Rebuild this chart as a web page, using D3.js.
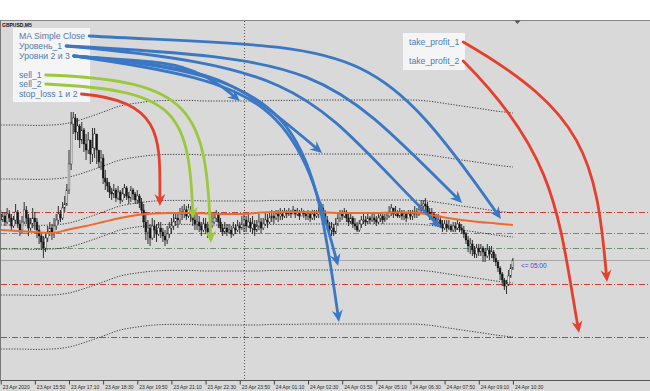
<!DOCTYPE html>
<html>
<head>
<meta charset="utf-8">
<script src="https://cdn.jsdelivr.net/npm/d3@7"></script>
<style>
  body { margin: 0; background: #fff; }
  svg { display: block; }
</style>
</head>
<body>
<div id="chart"></div>
<script>
// GBPUSD M5, 23 Apr 2020 14:30 .. 24 Apr 2020 10:30
const symbolTitle = 'GBPUSD,M5'
const firstBar = new Date(2020, 3, 23, 14, 30)
const barMinutes = 5

const timeTicks = ['23 Apr 2020', '23 Apr 15:50', '23 Apr 17:10', '23 Apr 18:30', '23 Apr 19:50',
  '23 Apr 21:10', '23 Apr 22:30', '23 Apr 23:50', '24 Apr 01:10', '24 Apr 02:30', '24 Apr 03:50',
  '24 Apr 05:10', '24 Apr 06:30', '24 Apr 07:50', '24 Apr 09:10', '24 Apr 10:30']

const close = [
  1.2356, 1.2358, 1.2355, 1.2359, 1.2357, 1.2353, 1.2356, 1.2360, 1.2354, 1.2351,
  1.2355, 1.2361, 1.2357, 1.2352, 1.2354, 1.2357, 1.2355, 1.2351, 1.2348, 1.2345,
  1.2342, 1.2347, 1.2350, 1.2352, 1.2349, 1.2353, 1.2356, 1.2359, 1.2357, 1.2362,
  1.2364, 1.2371, 1.2384, 1.2404, 1.2407, 1.2400, 1.2403, 1.2396, 1.2401, 1.2394,
  1.2391, 1.2396, 1.2389, 1.2392, 1.2399, 1.2391, 1.2385, 1.2387, 1.2377, 1.2375,
  1.2373, 1.2370, 1.2369, 1.2371, 1.2367, 1.2370, 1.2366, 1.2369, 1.2372, 1.2368,
  1.2367, 1.2371, 1.2369, 1.2366, 1.2368, 1.2365, 1.2361, 1.2355, 1.2350, 1.2352,
  1.2347, 1.2353, 1.2351, 1.2349, 1.2352, 1.2350, 1.2348, 1.2346, 1.2349, 1.2352,
  1.2353, 1.2355, 1.2357, 1.2356, 1.2359, 1.2360, 1.2361, 1.2358, 1.2361, 1.2359,
  1.2356, 1.2354, 1.2355, 1.2353, 1.2351, 1.2354, 1.2352, 1.2350, 1.2353, 1.2355,
  1.2357, 1.2359, 1.2355, 1.2352, 1.2350, 1.2352, 1.2350, 1.2351, 1.2349, 1.2352,
  1.2351, 1.2353, 1.2352, 1.2354, 1.2356, 1.2353, 1.2355, 1.2352, 1.2354, 1.2351,
  1.2353, 1.2355, 1.2352, 1.2354, 1.2356, 1.2355, 1.2357, 1.2358, 1.2357, 1.2359,
  1.2358, 1.2359, 1.2358, 1.2360, 1.2359, 1.2360, 1.2359, 1.2361, 1.2359, 1.2360,
  1.2358, 1.2360, 1.2359, 1.2358, 1.2359, 1.2357, 1.2359, 1.2358, 1.2359, 1.2360,
  1.2362, 1.2360, 1.2356, 1.2353, 1.2351, 1.2352, 1.2350, 1.2354, 1.2357, 1.2359,
  1.2358, 1.2360, 1.2357, 1.2355, 1.2357, 1.2354, 1.2353, 1.2351, 1.2354, 1.2356,
  1.2356, 1.2355, 1.2357, 1.2356, 1.2357, 1.2356, 1.2355, 1.2357, 1.2358, 1.2356,
  1.2357, 1.2358, 1.2360, 1.2362, 1.2359, 1.2360, 1.2358, 1.2360, 1.2358, 1.2359,
  1.2357, 1.2359, 1.2358, 1.2359, 1.2360, 1.2359, 1.2361, 1.2363, 1.2364, 1.2363,
  1.2360, 1.2358, 1.2359, 1.2357, 1.2355, 1.2356, 1.2354, 1.2352, 1.2354, 1.2352,
  1.2353, 1.2351, 1.2353, 1.2352, 1.2354, 1.2352, 1.2351, 1.2349, 1.2346, 1.2343,
  1.2344, 1.2341, 1.2339, 1.2342, 1.2340, 1.2342, 1.2340, 1.2338, 1.2341, 1.2339,
  1.2340, 1.2337, 1.2335, 1.2332, 1.2329, 1.2326, 1.2323, 1.2324, 1.2328, 1.2332,
  1.2336
]
const high = [
  1.2361, 1.2360, 1.2360, 1.2362, 1.2361, 1.2359, 1.2358, 1.2364, 1.2361, 1.2356,
  1.2358, 1.2365, 1.2363, 1.2359, 1.2357, 1.2362, 1.2360, 1.2357, 1.2353, 1.2350,
  1.2348, 1.2350, 1.2353, 1.2355, 1.2354, 1.2357, 1.2359, 1.2363, 1.2361, 1.2365,
  1.2368, 1.2374, 1.2391, 1.2410, 1.2410, 1.2409, 1.2407, 1.2404, 1.2405, 1.2402,
  1.2399, 1.2400, 1.2396, 1.2402, 1.2402, 1.2396, 1.2391, 1.2391, 1.2389, 1.2381,
  1.2377, 1.2375, 1.2372, 1.2374, 1.2372, 1.2373, 1.2371, 1.2372, 1.2374, 1.2373,
  1.2370, 1.2373, 1.2372, 1.2370, 1.2371, 1.2369, 1.2367, 1.2364, 1.2360, 1.2356,
  1.2354, 1.2357, 1.2356, 1.2354, 1.2355, 1.2355, 1.2352, 1.2351, 1.2353, 1.2355,
  1.2357, 1.2359, 1.2360, 1.2360, 1.2362, 1.2363, 1.2364, 1.2363, 1.2364, 1.2363,
  1.2361, 1.2359, 1.2359, 1.2358, 1.2355, 1.2357, 1.2357, 1.2355, 1.2357, 1.2359,
  1.2360, 1.2361, 1.2360, 1.2357, 1.2354, 1.2355, 1.2354, 1.2354, 1.2353, 1.2355,
  1.2354, 1.2356, 1.2355, 1.2358, 1.2359, 1.2358, 1.2359, 1.2357, 1.2358, 1.2356,
  1.2356, 1.2359, 1.2357, 1.2357, 1.2360, 1.2359, 1.2360, 1.2361, 1.2360, 1.2361,
  1.2361, 1.2362, 1.2361, 1.2362, 1.2361, 1.2362, 1.2361, 1.2363, 1.2361, 1.2362,
  1.2361, 1.2362, 1.2361, 1.2360, 1.2361, 1.2360, 1.2361, 1.2361, 1.2361, 1.2363,
  1.2365, 1.2364, 1.2361, 1.2358, 1.2355, 1.2355, 1.2354, 1.2357, 1.2360, 1.2361,
  1.2361, 1.2362, 1.2361, 1.2359, 1.2360, 1.2358, 1.2357, 1.2355, 1.2356, 1.2358,
  1.2359, 1.2358, 1.2359, 1.2358, 1.2359, 1.2359, 1.2358, 1.2359, 1.2360, 1.2359,
  1.2359, 1.2360, 1.2363, 1.2364, 1.2362, 1.2363, 1.2361, 1.2362, 1.2361, 1.2361,
  1.2360, 1.2361, 1.2361, 1.2361, 1.2363, 1.2362, 1.2364, 1.2366, 1.2366, 1.2367,
  1.2365, 1.2362, 1.2362, 1.2360, 1.2359, 1.2359, 1.2358, 1.2356, 1.2356, 1.2356,
  1.2356, 1.2354, 1.2355, 1.2355, 1.2356, 1.2355, 1.2354, 1.2353, 1.2350, 1.2348,
  1.2347, 1.2346, 1.2343, 1.2344, 1.2344, 1.2344, 1.2343, 1.2342, 1.2344, 1.2343,
  1.2343, 1.2341, 1.2339, 1.2336, 1.2333, 1.2330, 1.2327, 1.2326, 1.2331, 1.2334,
  1.2337
]
const low = [
  1.2354, 1.2355, 1.2353, 1.2354, 1.2355, 1.2351, 1.2352, 1.2354, 1.2352, 1.2348,
  1.2349, 1.2354, 1.2354, 1.2348, 1.2350, 1.2352, 1.2351, 1.2347, 1.2344, 1.2341,
  1.2337, 1.2340, 1.2345, 1.2348, 1.2346, 1.2347, 1.2351, 1.2354, 1.2355, 1.2356,
  1.2360, 1.2363, 1.2369, 1.2381, 1.2399, 1.2396, 1.2396, 1.2392, 1.2394, 1.2390,
  1.2386, 1.2389, 1.2384, 1.2385, 1.2387, 1.2384, 1.2382, 1.2381, 1.2374, 1.2371,
  1.2370, 1.2367, 1.2366, 1.2367, 1.2365, 1.2366, 1.2364, 1.2365, 1.2367, 1.2366,
  1.2364, 1.2365, 1.2366, 1.2364, 1.2364, 1.2362, 1.2359, 1.2352, 1.2346, 1.2344,
  1.2343, 1.2346, 1.2347, 1.2345, 1.2348, 1.2347, 1.2345, 1.2343, 1.2344, 1.2347,
  1.2349, 1.2351, 1.2353, 1.2352, 1.2354, 1.2356, 1.2357, 1.2356, 1.2357, 1.2355,
  1.2353, 1.2351, 1.2351, 1.2350, 1.2348, 1.2350, 1.2349, 1.2347, 1.2349, 1.2352,
  1.2354, 1.2355, 1.2352, 1.2350, 1.2348, 1.2349, 1.2348, 1.2349, 1.2347, 1.2348,
  1.2349, 1.2350, 1.2349, 1.2351, 1.2350, 1.2350, 1.2352, 1.2350, 1.2349, 1.2348,
  1.2350, 1.2351, 1.2349, 1.2351, 1.2353, 1.2352, 1.2354, 1.2355, 1.2354, 1.2356,
  1.2355, 1.2356, 1.2356, 1.2357, 1.2357, 1.2358, 1.2357, 1.2359, 1.2357, 1.2358,
  1.2356, 1.2358, 1.2357, 1.2356, 1.2356, 1.2355, 1.2356, 1.2356, 1.2357, 1.2357,
  1.2359, 1.2357, 1.2354, 1.2351, 1.2349, 1.2348, 1.2348, 1.2349, 1.2353, 1.2355,
  1.2356, 1.2357, 1.2355, 1.2353, 1.2354, 1.2352, 1.2351, 1.2350, 1.2350, 1.2352,
  1.2354, 1.2353, 1.2354, 1.2354, 1.2355, 1.2354, 1.2353, 1.2354, 1.2355, 1.2354,
  1.2355, 1.2356, 1.2357, 1.2358, 1.2357, 1.2358, 1.2357, 1.2357, 1.2356, 1.2356,
  1.2355, 1.2357, 1.2356, 1.2356, 1.2357, 1.2357, 1.2358, 1.2360, 1.2361, 1.2360,
  1.2358, 1.2356, 1.2357, 1.2354, 1.2353, 1.2354, 1.2352, 1.2350, 1.2351, 1.2350,
  1.2351, 1.2350, 1.2350, 1.2350, 1.2351, 1.2350, 1.2349, 1.2347, 1.2344, 1.2340,
  1.2339, 1.2338, 1.2337, 1.2337, 1.2338, 1.2338, 1.2335, 1.2335, 1.2337, 1.2336,
  1.2337, 1.2335, 1.2333, 1.2330, 1.2326, 1.2323, 1.2321, 1.2319, 1.2323, 1.2327,
  1.2331
]

// indicator values, one every 8 bars
const sampleStep = 8
const maClose = [
  1.2351, 1.23505, 1.2350, 1.23495, 1.23513, 1.2353, 1.2355, 1.2357, 1.23585, 1.23593,
  1.23595, 1.23595, 1.23593, 1.2359, 1.2359, 1.23595, 1.2360, 1.2360, 1.2360, 1.23598,
  1.23595, 1.23595, 1.23595, 1.23598, 1.23598, 1.23588, 1.23573, 1.2356, 1.2355, 1.23543,
  1.23535
]
const envelopeBase = [
  1.23475, 1.23475, 1.23473, 1.23475, 1.23485, 1.2351, 1.2354, 1.2357, 1.23585, 1.23595,
  1.23598, 1.23598, 1.23595, 1.23595, 1.23595, 1.23595, 1.23598, 1.23598, 1.2360, 1.2360,
  1.2360, 1.2360, 1.2360, 1.2360, 1.2360, 1.23595, 1.23583, 1.2357, 1.23558, 1.23545,
  1.23535
]
const envelopeDeviations = [0.0006, 0.0029, 0.0056]

const levelNames = ['stop_loss', 'sell_1', 'sell_2', 'take_profit_1', 'take_profit_2']
const levelPrices = [1.2360, 1.23495, 1.2342, 1.2324, 1.22975]
const timerText = '<= 05:00'

const legendLabels = ['MA Simple Close', 'Уровень_1', 'Уровни 2 и 3', 'sell_1', 'sell_2', 'stop_loss 1 и 2']
const profitLabels = ['take_profit_1', 'take_profit_2']

// annotation arrows: source label -> target (bar index, price)
const arrowLabels = ['MA Simple Close', 'Уровень_1', 'Уровень_1', 'Уровни 2 и 3', 'Уровни 2 и 3',
  'Уровни 2 и 3', 'Уровни 2 и 3', 'sell_1', 'sell_2', 'stop_loss 1 и 2', 'take_profit_1', 'take_profit_2']
const arrowBars = [234.4, 216.2, 206.3, 112.1, 150.6, 158.1, 158.5, 98.5, 90.1, 74.6, 284.1, 271]
const arrowPrices = [1.23565, 1.23645, 1.2352, 1.24155, 1.23895, 1.2333, 1.2305, 1.23445, 1.23565, 1.2363, 1.2325, 1.22995]

const W = 650
const H = 391
const plotTop = 21
const axisY = 381

const COLORS = {
  bg: '#d9d9d9',
  blue: '#3b78c4',
  green: '#9cc83e',
  red: '#e5402d',
  ma: '#ef6a2b',
  text: '#4d7bb0'
}

const svg = d3.select('#chart').append('svg')
  .attr('width', W)
  .attr('height', H)
  .style('font-family', '"Liberation Sans", Arial, sans-serif')

svg.append('rect').attr('width', W).attr('height', H).attr('fill', '#fff')
svg.append('rect')
  .attr('x', 0).attr('y', plotTop)
  .attr('width', W).attr('height', H - plotTop)
  .attr('fill', COLORS.bg)

const x = d3.scaleLinear().domain([0, close.length - 1]).range([0.7, 512.9])
const y = d3.scaleLinear().domain([1.2276, 1.24555]).range([380, 21])
const px = v => Math.round(v) + 0.5

// horizontal levels
svg.selectAll('.level')
  .data(levelPrices)
  .join('line')
  .attr('class', 'level')
  .attr('x1', 1).attr('x2', W)
  .attr('y1', d => px(y(d))).attr('y2', d => px(y(d)))
  .attr('stroke', (d, i) => levelNames[i].startsWith('sell') ? '#6f8d72' : '#cf3d33')
  .attr('stroke-width', 1)
  .attr('stroke-dasharray', '6,2,1,2')

// bid line
const bid = close[close.length - 1]
svg.append('line')
  .attr('x1', 1).attr('x2', W)
  .attr('y1', px(y(bid))).attr('y2', px(y(bid)))
  .attr('stroke', '#a9a9a9')
  .attr('stroke-width', 1.2)

// day separator
const barTime = i => new Date(+firstBar + i * barMinutes * 60000)
const dayBreak = d3.range(1, close.length).find(i => barTime(i).getDate() !== barTime(i - 1).getDate())
svg.append('line')
  .attr('x1', px(x(dayBreak))).attr('x2', px(x(dayBreak)))
  .attr('y1', plotTop).attr('y2', axisY)
  .attr('stroke', '#555')
  .attr('stroke-dasharray', '1,2')

// envelopes
const sampleBars = envelopeBase.map((d, i) => i * sampleStep)
const bandLine = d3.line().curve(d3.curveMonotoneX)
envelopeDeviations.forEach(dev => {
  [-1, 1].forEach(sign => {
    svg.append('path')
      .attr('d', bandLine(envelopeBase.map((b, i) => [x(sampleBars[i]), y(b + sign * dev)])))
      .attr('fill', 'none')
      .attr('stroke', '#262626')
      .attr('stroke-width', 0.9)
      .attr('stroke-dasharray', '1.2,1.5')
  })
})

// candles
const bars = close.map((c, i) => ({
  i,
  open: i === 0 ? 1.2359 : close[i - 1],
  close: c,
  high: high[i],
  low: low[i]
}))
const candles = svg.append('g').attr('class', 'candles')
candles.selectAll('line')
  .data(bars)
  .join('line')
  .attr('x1', d => x(d.i)).attr('x2', d => x(d.i))
  .attr('y1', d => y(Math.max(d.high, d.open, d.close)))
  .attr('y2', d => y(Math.min(d.low, d.open, d.close)))
  .attr('stroke', '#1c1c1c')
  .attr('stroke-width', 0.9)
candles.selectAll('rect')
  .data(bars)
  .join('rect')
  .attr('x', d => x(d.i) - 0.9)
  .attr('width', 1.8)
  .attr('y', d => y(Math.max(d.open, d.close)))
  .attr('height', d => Math.max(0.6, Math.abs(y(d.open) - y(d.close))))
  .attr('fill', d => d.close >= d.open ? '#f2f2f2' : '#151515')
  .attr('stroke', '#1c1c1c')
  .attr('stroke-width', 0.4)

// moving average
svg.append('path')
  .attr('d', d3.line().curve(d3.curveMonotoneX)(maClose.map((v, i) => [x(sampleBars[i]), y(v)])))
  .attr('fill', 'none')
  .attr('stroke', COLORS.ma)
  .attr('stroke-width', 2)

// timer label next to the bid line
svg.append('text')
  .attr('x', x(close.length - 1) + 8)
  .attr('y', y(bid) + 7.5)
  .attr('font-size', 6.5)
  .attr('fill', '#4646c8')
  .text(timerText)

// annotation boxes
function labelBox (labels, left, top, w, h, baselines) {
  svg.append('rect')
    .attr('x', left).attr('y', top)
    .attr('width', w).attr('height', h)
    .attr('fill', '#f5f5f5')
  const pos = {}
  svg.selectAll(null)
    .data(labels)
    .join('text')
    .attr('x', left + 6)
    .attr('y', (d, i) => baselines[i])
    .attr('font-size', 8.7)
    .attr('fill', COLORS.text)
    .text(d => d)
    .each(function (d, i) {
      pos[d] = [left + 6 + this.getComputedTextLength() + 4, baselines[i] - 3]
    })
  return pos
}
const starts = Object.assign(
  labelBox(legendLabels, 13, 28, 77, 74, [39, 49, 59, 78, 87, 97]),
  labelBox(profitLabels, 403, 33, 62, 37, [45, 64])
)

// curve shape per arrow: start angle, end angle, handle lengths
const arrowShape = [
  { a0: 3, a1: 55, k0: 0.6, k1: 0.5 },
  { a0: 3, a1: 45, k0: 0.6, k1: 0.45 },
  { a0: 5, a1: 45, k0: 0.6, k1: 0.45 },
  { a0: 5, a1: 40, k0: 0.5, k1: 0.4 },
  { a0: 5, a1: 40, k0: 0.55, k1: 0.45 },
  { a0: 8, a1: 75, k0: 0.6, k1: 0.5 },
  { a0: 5, a1: 82, k0: 0.6, k1: 0.55 },
  { a0: 2, a1: 88, k0: 0.63, k1: 0.57 },
  { a0: 3, a1: 88, k0: 0.63, k1: 0.57 },
  { a0: 5, a1: 90, k0: 0.6, k1: 0.5 },
  { a0: 30, a1: 85, k0: 0.5, k1: 0.45 },
  { a0: 45, a1: 80, k0: 0.45, k1: 0.4 }
]
const arrowColor = label => {
  if (label.startsWith('sell')) return COLORS.green
  if (label.startsWith('stop') || label.startsWith('take')) return COLORS.red
  return COLORS.blue
}
const rad = Math.PI / 180

const arrows = svg.append('g').attr('class', 'arrows')
arrowLabels.forEach((label, i) => {
  const s = starts[label]
  const e = [x(arrowBars[i]), y(arrowPrices[i])]
  const sh = arrowShape[i]
  const L = Math.hypot(e[0] - s[0], e[1] - s[1])
  const ux = Math.cos(sh.a1 * rad)
  const uy = Math.sin(sh.a1 * rad)
  const p = d3.path()
  p.moveTo(s[0], s[1])
  p.bezierCurveTo(
    s[0] + sh.k0 * L * Math.cos(sh.a0 * rad), s[1] + sh.k0 * L * Math.sin(sh.a0 * rad),
    e[0] - sh.k1 * L * ux, e[1] - sh.k1 * L * uy,
    e[0] - 7 * ux, e[1] - 7 * uy
  )
  arrows.append('path')
    .attr('d', p.toString())
    .attr('fill', 'none')
    .attr('stroke', arrowColor(label))
    .attr('stroke-width', 2.8)
    .attr('stroke-linecap', 'round')
  arrows.append('path')
    .attr('d', 'M0,0L-12,-5.5L-8,0L-12,5.5Z')
    .attr('transform', `translate(${e[0]},${e[1]}) rotate(${sh.a1})`)
    .attr('fill', arrowColor(label))
})

// time axis
svg.append('line')
  .attr('x1', 0).attr('x2', W)
  .attr('y1', axisY - 0.5).attr('y2', axisY - 0.5)
  .attr('stroke', '#555')
const axis = svg.append('g')
  .attr('transform', `translate(0,${axisY - 0.5})`)
  .call(d3.axisBottom(x)
    .tickValues(timeTicks.map((d, i) => i * 16))
    .tickFormat((d, i) => timeTicks[i])
    .tickSize(4)
    .tickSizeOuter(0)
    .tickPadding(1))
axis.select('.domain').remove()
axis.selectAll('.tick line').attr('stroke', '#444')
axis.selectAll('.tick text')
  .attr('text-anchor', 'start')
  .attr('x', 1.5)
  .attr('font-size', 5)
  .attr('font-family', '"Liberation Sans", Arial, sans-serif')
  .attr('fill', '#2a2a2a')

// frame
svg.append('line')
  .attr('x1', 0).attr('x2', W)
  .attr('y1', plotTop - 0.5).attr('y2', plotTop - 0.5)
  .attr('stroke', '#888')
  .attr('stroke-width', 1.2)
svg.append('line')
  .attr('x1', 0.5).attr('x2', 0.5)
  .attr('y1', plotTop).attr('y2', axisY)
  .attr('stroke', '#777')
svg.append('path')
  .attr('d', `M${x(close.length - 1) + 1.5},${plotTop - 0.5}h6l-3,3.5z`)
  .attr('fill', '#555')

svg.append('text')
  .attr('x', 2).attr('y', 27)
  .attr('font-size', 5)
  .attr('font-weight', 'bold')
  .attr('fill', '#111')
  .text(symbolTitle)
</script>
</body>
</html>
